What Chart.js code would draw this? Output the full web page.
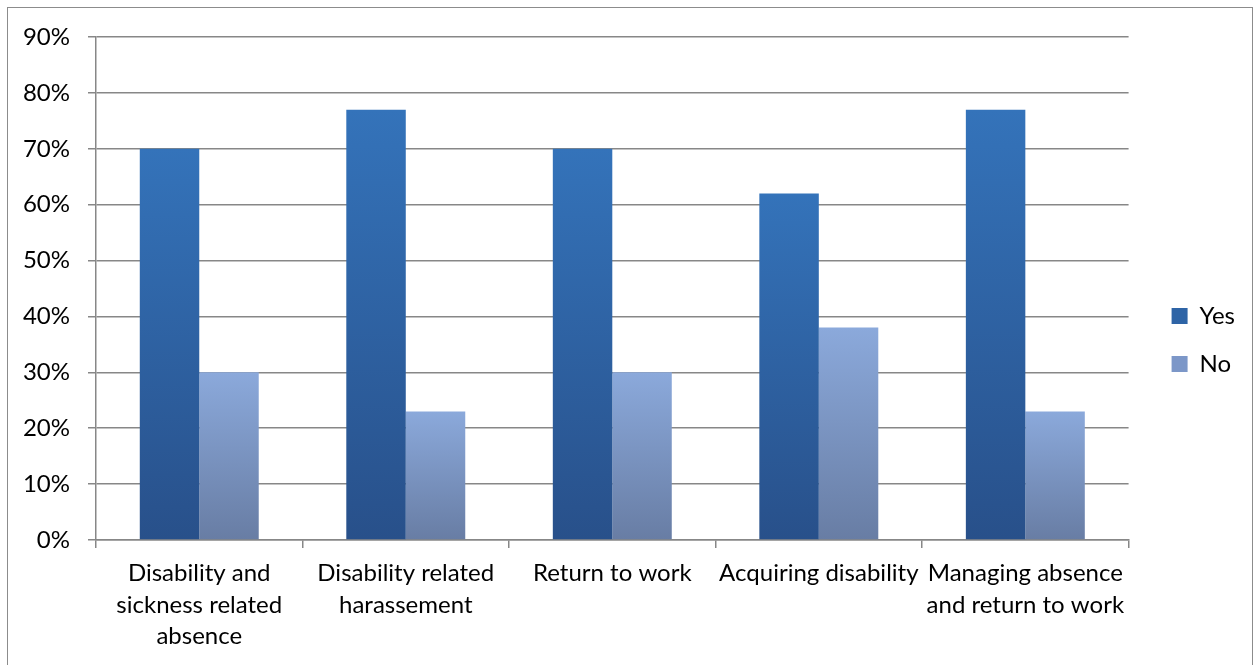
<!DOCTYPE html>
<html>
<head>
<meta charset="utf-8">
<script src="https://cdn.jsdelivr.net/npm/chart.js@4.4.1/dist/chart.umd.min.js"></script>
<style>
  html, body { margin: 0; padding: 0; background: #fff; overflow: hidden; }
  #wrap { position: absolute; left: 0; top: 0; width: 1256px; height: 665px; }
  #frame { position: absolute; left: 7px; top: 7px; width: 1244px; height: 700px; border: 1px solid #8c8c8c; }
</style>
</head>
<body>
<div id="frame"></div>
<div id="wrap"><canvas id="chart"></canvas></div>
<script>
// Survey answers per topic (percent)
const categories = [
  ["Disability and", "sickness related", "absence"],
  ["Disability related", "harassement"],
  "Return to work",
  "Acquiring disability",
  ["Managing absence", "and return to work"]
];
const yesValues = [70, 77, 70, 62, 77];
const noValues = [30, 23, 30, 38, 23];

// Helper: vertical gradient from bar top down to the axis
function barGradient(ctx, top, bottom) {
  const chart = ctx.chart;
  const y = chart.scales && chart.scales.y;
  if (!chart.chartArea || !y) return bottom;
  const val = ctx.parsed ? ctx.parsed.y : ctx.raw;
  const y0 = y.getPixelForValue(val);
  const y1 = y.getPixelForValue(0);
  const g = chart.ctx.createLinearGradient(0, y0, 0, y1);
  g.addColorStop(0, top);
  g.addColorStop(1, bottom);
  return g;
}

// nudge the legend block (right + up) like the original
const legendNudge = {
  id: "legendNudge",
  afterLayout(chart) {
    const l = chart.legend;
    if (!l) return;
    l.left += 19; l.right += 19;
    l.bottom -= 22; l.height -= 22;
  }
};

const font = { family: "Lato, 'Open Sans', sans-serif", size: 24 };

new Chart(document.getElementById("chart"), {
  type: "bar",
  data: {
    labels: categories,
    datasets: [
      {
        label: "Yes",
        data: yesValues,
        backgroundColor: (c) => barGradient(c, "#3473ba", "#28508a"),
        borderWidth: 0
      },
      {
        label: "No",
        data: noValues,
        backgroundColor: (c) => barGradient(c, "#8ba9db", "#687da4"),
        borderWidth: 0
      }
    ]
  },
  options: {
    responsive: true,
    maintainAspectRatio: false,
    animation: false,
    categoryPercentage: 0.576,
    barPercentage: 1.0,
    layout: { padding: { top: 37, left: 0, right: 30, bottom: 0 } },
    plugins: {
      legend: {
        position: "right",
        labels: {
          boxWidth: 16,
          boxHeight: 16,
          padding: 24,
          color: "#000",
          font: font,
          generateLabels: (chart) => chart.data.datasets.map((ds, i) => ({
            text: ds.label,
            fillStyle: i === 0 ? "#2e64a6" : "#7c97c8",
            strokeStyle: "transparent",
            lineWidth: 0,
            datasetIndex: i
          }))
        }
      },
      tooltip: { enabled: false }
    },
    scales: {
      x: {
        grid: { display: true, drawOnChartArea: false, drawTicks: true, tickLength: 8, color: "#878787", lineWidth: 1.5 },
        border: { color: "#878787", width: 1.5 },
        ticks: { color: "#000", font: { ...font, lineHeight: 1.3 }, padding: 10, maxRotation: 0, autoSkip: false },
        afterFit: (s) => { s.height = 125; }
      },
      y: {
        min: 0,
        max: 90,
        grid: { color: "#878787", lineWidth: 1.5, tickLength: 8 },
        border: { color: "#878787", width: 1.5 },
        ticks: {
          stepSize: 10,
          color: "#000",
          font: font,
          padding: 18,
          callback: (v) => v + "%"
        },
        afterFit: (s) => { s.width = 96; }
      }
    }
  },
  plugins: [legendNudge]
});
</script>
</body>
</html>
